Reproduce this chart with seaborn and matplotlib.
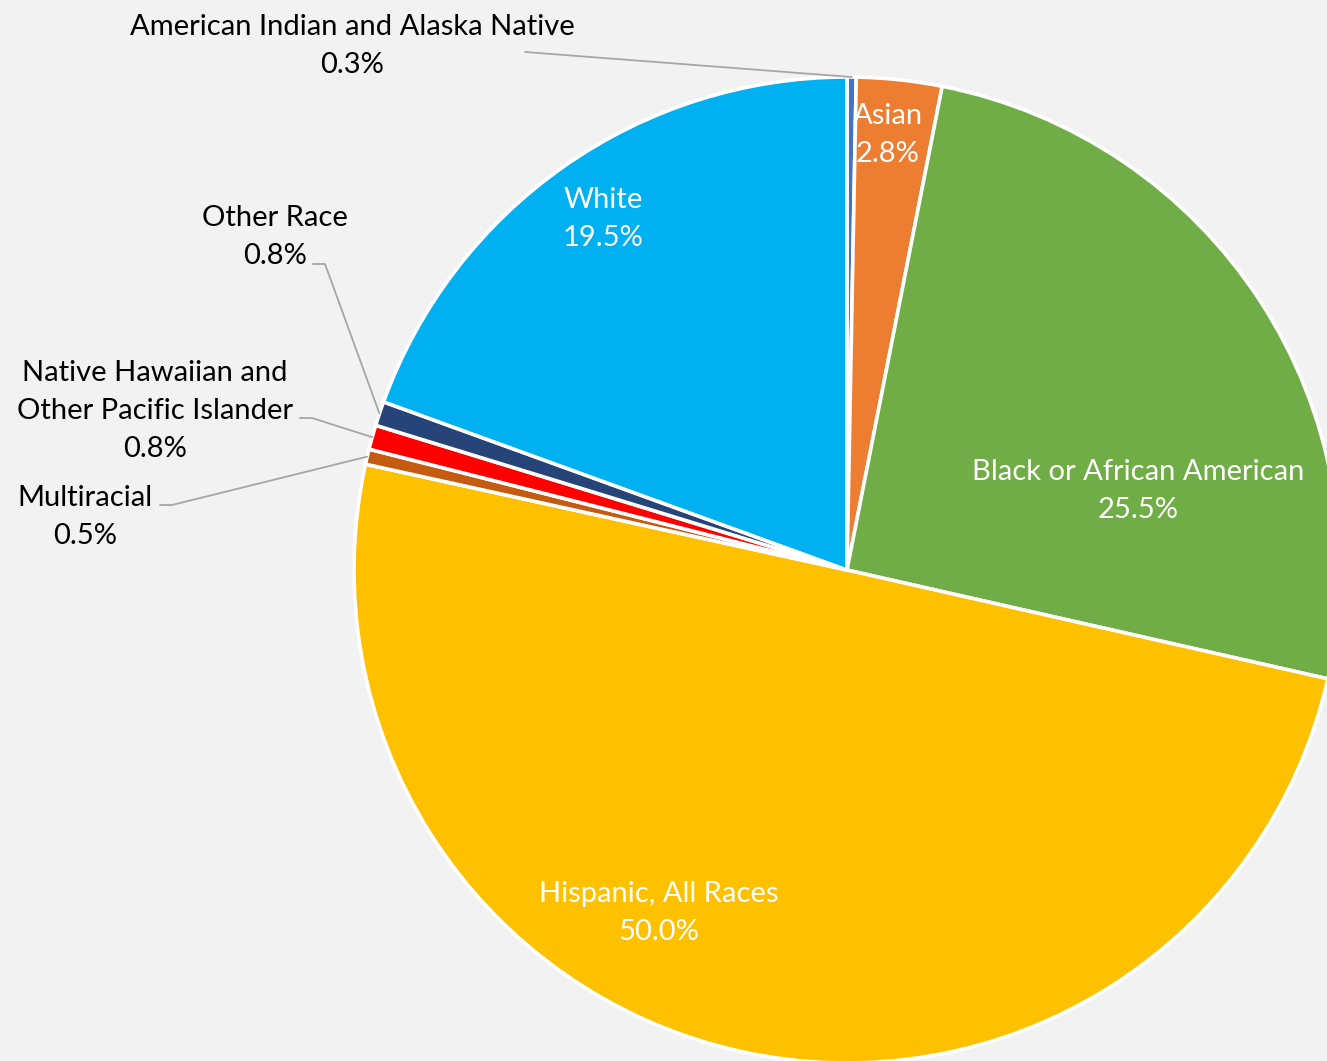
import numpy as np
import seaborn as sns
import matplotlib.pyplot as plt

# Share of population by race / ethnicity
categories = ["American Indian and Alaska Native", "Asian", "Black or African American",
              "Hispanic, All Races", "Multiracial",
              "Native Hawaiian and\nOther Pacific Islander", "Other Race", "White"]
shares = [0.3, 2.8, 25.5, 50.0, 0.5, 0.8, 0.8, 19.5]
colors = ["#4472C4", "#ED7D31", "#70AD47", "#FFC000", "#C55A11", "#FF0000", "#264478", "#00B0F0"]

sns.set_style("white")
plt.rcParams["font.family"] = ["Lato", "DejaVu Sans"]

W, H = 1327, 1061
cx, cy, R = 847, 570, 493

def to_data(px, py):
    return (px - cx) / R, (cy - py) / R

fig = plt.figure(figsize=(W / 100, H / 100), dpi=100, facecolor="#F2F2F2")
ax = fig.add_axes([0, 0, 1, 1])
ax.set_facecolor("#F2F2F2")

wedges, _ = ax.pie(shares, colors=colors, startangle=90, counterclock=False,
                   radius=1, center=(0, 0), normalize=True,
                   wedgeprops=dict(edgecolor="white", linewidth=2.6))
ax.set_aspect("auto")
ax.set_xlim(-cx / R, (W - cx) / R)
ax.set_ylim(-(H - cy) / R, cy / R)
ax.axis("off")

# label placement in pixels: inside labels (white) and outside labels with leaders
inside = {1: (888, 135), 2: (1138, 491), 3: (659, 913), 7: (603, 219)}
outside = {
    0: ((352, 46), [(525, 52)]),
    6: ((275, 237), [(313, 264), (325, 264)]),
    5: ((155, 411), [(300, 418), (312, 418)]),
    4: ((85, 517), [(160, 505), (172, 505)]),
}

fs = 21
ls = 1.55
for i, (px, py) in inside.items():
    x, y = to_data(px, py)
    ax.text(x, y, f"{categories[i]}\n{shares[i]:.1f}%", color="white", fontsize=fs,
            ha="center", va="center", linespacing=ls)

for i, ((px, py), pts) in outside.items():
    x, y = to_data(px, py)
    ax.text(x, y, f"{categories[i]}\n{shares[i]:.1f}%", color="black", fontsize=fs,
            ha="center", va="center", linespacing=ls)
    w = wedges[i]
    ang = np.deg2rad((w.theta1 + w.theta2) / 2)
    ex, ey = np.cos(ang), np.sin(ang)
    line = [to_data(*p) for p in pts] + [(ex, ey)]
    ax.plot([p[0] for p in line], [p[1] for p in line], color="#A6A6A6", lw=1.3)

fig.savefig("out.png", dpi=100, facecolor=fig.get_facecolor())
